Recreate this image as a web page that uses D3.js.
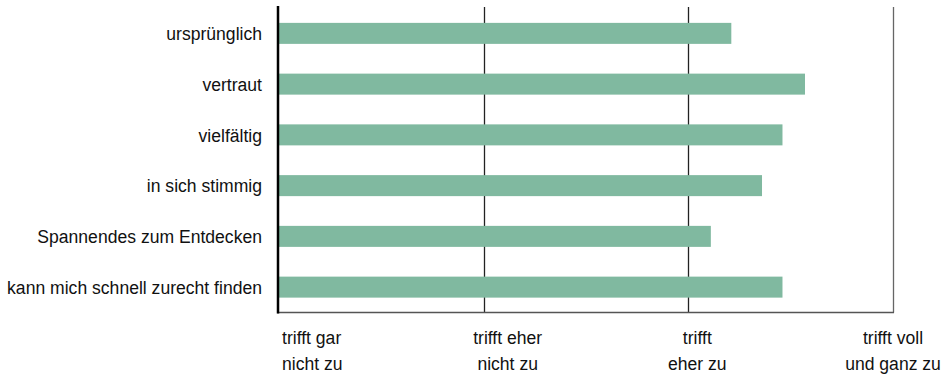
<!DOCTYPE html>
<html>
<head>
<meta charset="utf-8">
<script src="https://cdn.jsdelivr.net/npm/d3@7"></script>
<style>
  html, body { margin: 0; padding: 0; background: #fff; }
  svg text { font-family: "Liberation Sans", Arial, sans-serif; font-size: 19px; fill: #111; }
</style>
</head>
<body>
<svg id="chart" width="944" height="383"></svg>
<script>
// Statements rated on a four-step agreement scale (1 = trifft gar nicht zu … 4 = trifft voll und ganz zu)
const categories = [
  "ursprünglich",
  "vertraut",
  "vielfältig",
  "in sich stimmig",
  "Spannendes zum Entdecken",
  "kann mich schnell zurecht finden"
];
const means = [3.21, 3.57, 3.46, 3.36, 3.11, 3.46];
const tickValues = [1, 2, 3, 4];
const tickLabels = [
  ["trifft gar", "nicht zu"],
  ["trifft eher", "nicht zu"],
  ["trifft", "eher zu"],
  ["trifft voll", "und ganz zu"]
];

const svg = d3.select("#chart");
const plotLeft = 279, plotRight = 893, plotTop = 7, plotBottom = 312.5;
const narrow = 0.925; // condensed lettering

const x = d3.scaleLinear().domain([1, 4]).range([plotLeft, plotRight]);
const y = d3.scaleBand().domain(categories).range([plotTop + 1, plotBottom]).padding(0);
const barH = 21;

// vertical grid lines at each scale step
svg.append("g").selectAll("line")
  .data(tickValues.slice(1))
  .join("line")
  .attr("x1", d => Math.round(x(d)) + 0.5)
  .attr("x2", d => Math.round(x(d)) + 0.5)
  .attr("y1", plotTop)
  .attr("y2", plotBottom)
  .attr("stroke", d => d === 4 ? "#666" : "#222")
  .attr("stroke-width", 1.3);

// bars
svg.append("g").selectAll("rect")
  .data(categories)
  .join("rect")
  .attr("x", x(1))
  .attr("y", (d) => y(d) + y.bandwidth() / 2 - barH / 2)
  .attr("width", (d, i) => x(means[i]) - x(1))
  .attr("height", barH)
  .attr("fill", "#80b9a0");

// baseline
svg.append("line")
  .attr("x1", plotLeft - 2).attr("x2", plotRight + 1)
  .attr("y1", plotBottom).attr("y2", plotBottom)
  .attr("stroke", "#555").attr("stroke-width", 1.5);

// left axis line
svg.append("line")
  .attr("x1", plotLeft - 1).attr("x2", plotLeft - 1)
  .attr("y1", plotTop - 1).attr("y2", plotBottom + 1)
  .attr("stroke", "#000").attr("stroke-width", 2.5);

// category labels
svg.append("g").selectAll("text")
  .data(categories)
  .join("text")
  .attr("transform", d => `translate(${plotLeft - 17},${y(d) + y.bandwidth() / 2}) scale(${narrow},1)`)
  .attr("dy", "0.35em")
  .attr("text-anchor", "end")
  .text(d => d);

// scale labels below the axis
const labelAnchor = ["start", "middle", "middle", "middle"];
const labelShift = [3, 24, 9, 0];
const lg = svg.append("g").selectAll("text")
  .data(tickValues)
  .join("text")
  .attr("transform", (d, i) => `translate(${x(d) + labelShift[i]},344) scale(${narrow},1)`)
  .attr("text-anchor", (d, i) => labelAnchor[i]);
lg.selectAll("tspan")
  .data((d, i) => tickLabels[i])
  .join("tspan")
  .attr("x", 0)
  .attr("dy", (d, j) => j === 0 ? 0 : 26.5)
  .text(d => d);
</script>
</body>
</html>
